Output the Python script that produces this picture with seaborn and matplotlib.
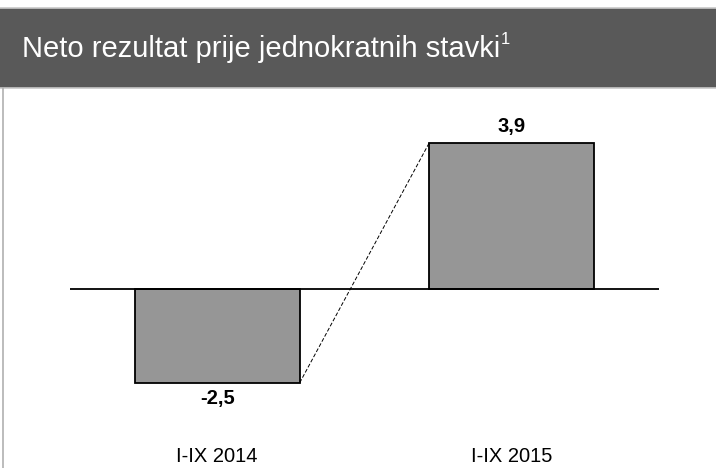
import pandas as pd
import seaborn as sns
import matplotlib.pyplot as plt
from matplotlib.patches import Rectangle
from matplotlib.lines import Line2D

sns.set_theme(style="white")
plt.rcParams["font.family"] = ["Liberation Sans", "DejaVu Sans"]

categories = ["I-IX 2014", "I-IX 2015"]
values = [-2.5, 3.9]
value_labels = ["-2,5", "3,9"]
title = "Neto rezultat prije jednokratnih stavki"
footnote_mark = "1"

df = pd.DataFrame({"period": categories, "value": values})

W, H = 716, 468
fig = plt.figure(figsize=(W / 100, H / 100), dpi=100)

# header band
fig.patches.append(Rectangle((0, 1 - 88 / H), 1, 80 / H, transform=fig.transFigure,
                             facecolor="#595959", edgecolor="none", zorder=-1))
fig.add_artist(Line2D([0, 1], [1 - 8 / H, 1 - 8 / H], color="#c8c8c8", lw=1.2))
fig.add_artist(Line2D([0, 1], [1 - 88 / H, 1 - 88 / H], color="#c8c8c8", lw=1.2))
fig.add_artist(Line2D([2.5 / W, 2.5 / W], [0, 1 - 88 / H], color="#b0b0b0", lw=1.2))
t = fig.text(22 / W, 1 - 57 / H, title, color="white", fontsize=21,
             va="baseline", ha="left")

ylo, yhi = -3.5, 5.0
px_per_unit = 37.5
ax_h = (yhi - ylo) * px_per_unit
ax_bottom = H - (289 + (-ylo) * px_per_unit)
ax = fig.add_axes([70 / W, ax_bottom / H, 589 / W, ax_h / H])

ax.annotate(footnote_mark, xy=(1, 1), xycoords=t, xytext=(0.5, 2),
            textcoords="offset points", color="white", fontsize=12,
            ha="left", va="top", annotation_clip=False, zorder=10)

sns.barplot(data=df, x="period", y="value", ax=ax, width=0.56, color="#969696",
            saturation=1, edgecolor="black", linewidth=1.3, zorder=2)

ax.axhline(0, color="black", lw=1.3, zorder=3)
half = 0.28
ax.plot([0 + half, 1 - half], [values[0], values[1]], color="black", lw=0.7,
        ls=(0, (4, 2)), zorder=1)

for i, (v, lab) in enumerate(zip(values, value_labels)):
    off = 0.43 if v > 0 else -0.41
    ax.text(i, v + off, lab, ha="center", va="center", fontsize=14.5,
            fontweight="bold", color="black")

ax.set_xlim(-0.5, 1.5)
ax.set_ylim(ylo, yhi)
ax.set_yticks([])
ax.tick_params(axis="x", length=0, pad=19, labelsize=14.5, labelcolor="black")
ax.set_xlabel("")
ax.set_ylabel("")
for s in ax.spines.values():
    s.set_visible(False)
ax.patch.set_alpha(0)

fig.savefig("out.png", dpi=100)
